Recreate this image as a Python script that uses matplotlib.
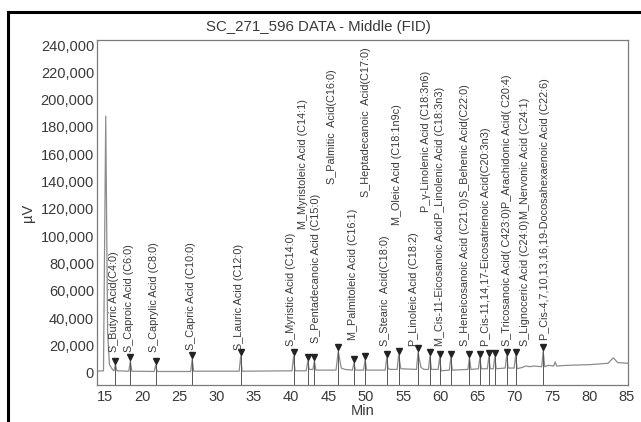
import matplotlib
matplotlib.use('Agg')
import matplotlib.pyplot as plt
from matplotlib.lines import Line2D

plt.rcParams['font.family'] = ['Liberation Sans', 'DejaVu Sans']

title = 'SC_271_596 DATA - Middle (FID)'

# detector trace (min, uV)
trace_t = [13.9, 14.8, 15.1, 15.35, 15.6, 16.0, 16.2, 16.4, 16.6, 18.2, 18.4, 18.6,
           21.6, 21.8, 22.0, 26.5, 26.7, 26.9, 33.0, 33.2, 33.4, 40.1, 40.3, 40.5,
           42.0, 42.2, 42.4, 42.9, 43.1, 43.3, 46.0, 46.3, 46.7, 47.2, 48.2, 48.4,
           48.6, 49.7, 49.9, 50.1, 52.6, 52.8, 53.0, 53.4, 54.2, 54.4, 54.7, 56.8,
           57.0, 57.4, 57.8, 58.4, 58.6, 58.8, 59.7, 59.9, 60.1, 61.2, 61.4, 61.6,
           63.7, 63.9, 64.1, 65.1, 65.3, 65.5, 66.3, 66.5, 66.7, 67.1, 67.3, 67.5,
           68.7, 68.9, 69.1, 69.9, 70.1, 70.3, 71.0, 71.5, 72.0, 72.5, 73.6, 73.8,
           74.0, 74.5, 75.2, 75.4, 75.6, 77.0, 80.0, 82.5, 83.2, 83.8, 85.2]
trace_v = [1200, 1500, 188000, 30000, 6000, 2500, 1500, 6000, 1500, 1200, 8500, 1200,
           1000, 5500, 1000, 1000, 10000, 1200, 1200, 12000, 1200, 1500, 12000, 1500,
           1500, 8500, 2500, 2500, 8500, 2000, 2000, 16000, 3500, 2500, 2000, 7000,
           2000, 2000, 9500, 2000, 2000, 11000, 3000, 2500, 2500, 13000, 3000, 2500,
           15000, 4000, 2500, 2500, 12000, 2500, 2500, 11000, 1500, 2000, 11000, 2000,
           2500, 11000, 2500, 3000, 11000, 3000, 3000, 11500, 3000, 3000, 11500, 3000,
           3500, 12500, 3500, 3500, 12500, 3000, 4000, 5000, 4500, 5000, 4500, 16000,
           4500, 5500, 5000, 8000, 5000, 5500, 6000, 7000, 11000, 7500, 7000]

# integrated peaks (retention time, apex)
peak_t = [16.4, 18.4, 21.8, 26.7, 33.2, 40.3, 42.2, 43.1, 46.3, 48.4, 49.9, 52.8,
          54.4, 57.0, 58.6, 59.9, 61.4, 63.9, 65.3, 66.5, 67.3, 68.9, 70.1, 73.8]
peak_h = [6000, 8500, 5500, 10000, 12000, 12000, 8500, 8500, 16000, 7000, 9500, 11000,
          13000, 15000, 12000, 11000, 11000, 11000, 11000, 11500, 11500, 12500, 12500, 16000]

# peak names as printed (column time, text bottom, name, name printed over it)
label_t = [16.2, 18.2, 21.6, 26.5, 33.0, 40.0, 41.6, 43.3, 45.5, 48.3, 50.0, 52.6,
           54.2, 56.5, 58.1, 59.9, 63.3, 66.1, 68.9, 71.4, 74.0]
label_base = [15000, 15000, 15000, 17000, 17000, 20000, 105000, 22000, 138000, 24000,
              129000, 20000, 108000, 20000, 118000, 20000, 20000, 20000, 20000, 20000, 24000]
label_txt = ['S_Butyric Acid(C4:0)', 'S_Caproic Acid (C6:0)', 'S_Caprylic Acid (C8:0)',
             'S_Capric Acid (C10:0)', 'S_Lauric Acid (C12:0)', 'S_Myristic Acid (C14:0)',
             'M_Myristoleic Acid (C14:1)', 'S_Pentadecanoic Acid (C15:0)',
             'S_Palmitic  Acid(C16:0)', 'M_Palmitoleic Acid (C16:1)',
             'S_Heptadecanoic  Acid(C17:0)', 'S_Stearic  Acid(C18:0)',
             'M_Oleic Acid (C18:1n9c)', 'P_Linoleic Acid (C18:2)',
             'P_\u03b3-Linolenic Acid (C18:3n6)', 'M_Cis-11-Eicosanoic Acid',
             'S_Heneicosanoic Acid (C21:0)', 'P_Cis-11,14,17-Eicosatrienoic Acid(C20:3n3)',
             'S_Tricosanoic Acid( C423:0)', 'S_Lignoceric Acid (C24:0)',
             'P_Cis-4,7,10,13,16,19-Docosahexaenoic Acid (C22:6)']
label_over = ['', '', '', '', '', '', '', '', '', '', '', '', '', '', '',
              'P_Linolenic Acid (C18:3n3)', 'S_Behenic Acid(C22:0)', '',
              'P_Arachidonic Acid( C20:4)', 'M_Nervonic Acid (C24:1)', '']

y_ticks = list(range(0, 240001, 20000))
x_ticks = list(range(15, 86, 5))

fig = plt.figure(figsize=(6.41, 4.22), dpi=100)
ax = fig.add_axes([0.151, 0.088, 0.829, 0.817])
ink = '#3a3a3a'
grey = '#8c8c8c'

ax.plot(trace_t, trace_v, color=grey, lw=0.9)
ax.set_xlim(13.9, 85.2)
ax.set_ylim(-8800, 243600)

# retention markers
for t, h in zip(peak_t, peak_h):
    ax.plot([t, t], [-8800, h + 2500], color='#555555', lw=0.7)
    ax.plot(t, h + 3000, marker='v', ms=4.5, color='#222222', mec='#222222')

for t, b, name, over in zip(label_t, label_base, label_txt, label_over):
    txt = ax.text(t, b, name, rotation=90, ha='center', va='bottom',
                  fontsize=7.8, color=ink)
    if over:
        ax.annotate(over, xy=(0.5, 1.0), xycoords=txt, rotation=90,
                    ha='center', va='bottom', fontsize=7.8, color=ink)

ax.set_yticks(y_ticks)
ax.set_yticklabels([f'{v:,}' for v in y_ticks])
ax.set_xticks(x_ticks)
ax.tick_params(axis='both', length=0, labelsize=10.5, colors=ink)
ax.tick_params(axis='y', pad=2)
ax.tick_params(axis='x', pad=4)
for s in ax.spines.values():
    s.set_color('#7a7a7a')
    s.set_linewidth(0.9)

ax.set_xlabel('Min', fontsize=10.5, color=ink, labelpad=0)
ax.set_ylabel('\u00b5V', fontsize=10.5, color=ink, labelpad=4)
fig.text(318 / 641, 1 - 27 / 422, title, ha='center', va='center', fontsize=10.8, color=ink)

# frame of the printout
fig.add_artist(Line2D([8 / 641, 1.0], [1 - 12 / 422, 1 - 12 / 422], color='black', lw=2.2))
fig.add_artist(Line2D([8 / 641, 8 / 641], [0.0, 1 - 12 / 422], color='black', lw=2.2))

fig.savefig('out.png', dpi=100)
